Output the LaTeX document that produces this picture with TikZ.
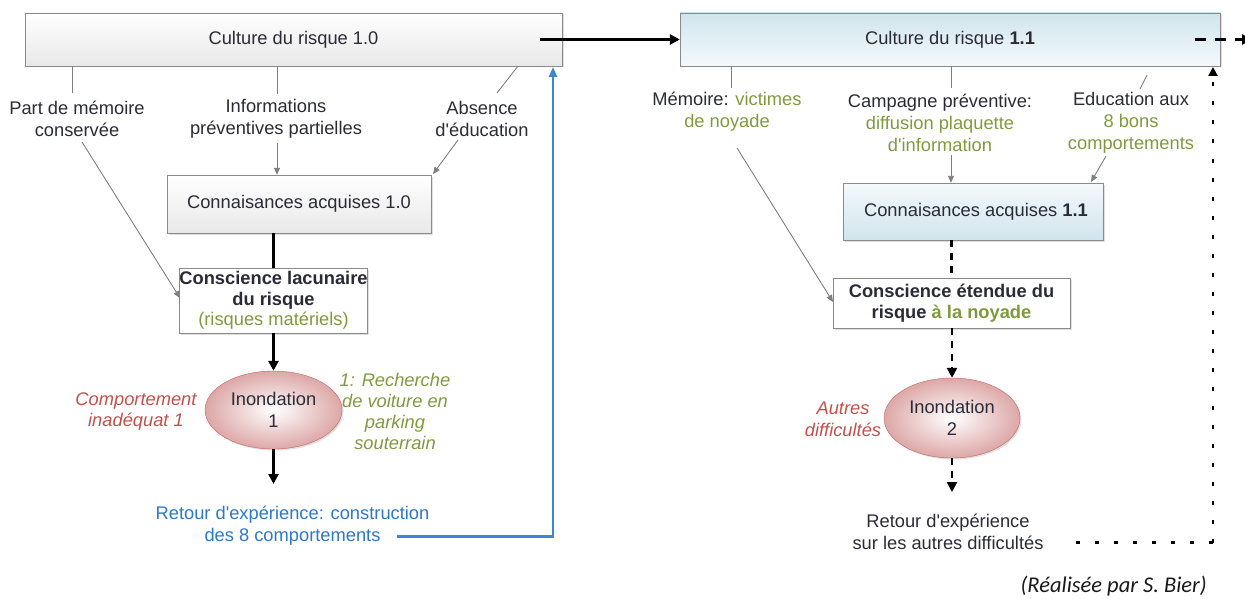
\documentclass[tikz,border=0pt]{standalone}
\usepackage{fontspec}
\setmainfont{Liberation Sans}[Ligatures=TeXOff]
\newfontfamily\credfont{Carlito}[Ligatures=TeXOff]
\usetikzlibrary{arrows.meta,shadows,shapes.geometric}
\newcommand{\apos}{\char39\relax}
\definecolor{txt}{HTML}{2B2B38}
\definecolor{grn}{HTML}{7F9A3E}
\definecolor{redt}{HTML}{C0504D}
\definecolor{bluet}{HTML}{2E78C4}
\definecolor{bluel}{HTML}{3A88D2}
\definecolor{gline}{HTML}{7F7F7F}
\definecolor{gborder}{HTML}{8A8A8A}
\definecolor{ellb}{HTML}{C26663}
\definecolor{ello}{HTML}{DDA7A7}
\definecolor{bdark}{HTML}{D0E5ED}
\definecolor{blight}{HTML}{F4F9FB}
\begin{document}
\begin{tikzpicture}[x=1pt,y=-1pt,
  font=\fontsize{18.3}{22}\selectfont, text=txt,
  shade/.style={drop shadow={opacity=0.25,shadow xshift=1.5pt,shadow yshift=-1.5pt}},
  graybox/.style={draw=gborder, top color=white, bottom color=black!9, shade, inner sep=0pt, align=center},
  bluebox/.style={draw=gborder, top color=bdark, bottom color=blight, shade, inner sep=0pt, align=center},
  bluebox2/.style={draw=gborder, top color=blight, bottom color=bdark, shade, inner sep=0pt, align=center},
  whitebox/.style={draw=gborder, fill=white, shade, inner sep=0pt, align=center},
  ell/.style={ellipse, draw=ellb, inner color=white, outer color=ello, shade, inner sep=0pt, align=center},
  lab/.style={inner sep=0pt, align=center},
  gcon/.style={draw=gline, line width=0.9pt},
  garr/.style={gcon, -{Triangle[length=7pt,width=6pt]}},
  barr/.style={line width=2.6pt, -{Triangle[length=10pt,width=10pt]}},
  bline/.style={line width=2.6pt},
  dsh/.style={line width=2.6pt, dash pattern=on 7pt off 6pt},
  dotl/.style={line width=2.4pt, dash pattern=on 4pt off 15pt},
]
\useasboundingbox (0,0) rectangle (1245,599);

% ---------- left column ----------
\node[graybox, minimum width=537, minimum height=53] (c10) at (293.5,39.5) {Culture du risque 1.0};
\node[lab] (l1) at (77,118.5) {Part de mémoire\\conservée};
\node[lab] (l2) at (276,118.5) {Informations\\préventives partielles};
\node[lab] (l3) at (482,118.5) {Absence\\d\apos éducation};
\node[graybox, minimum width=264, minimum height=58] (k10) at (299,204) {Connaisances acquises 1.0};
\node[whitebox, minimum width=187, minimum height=65] (s10) at (273.5,300.5)
  {\textbf{Conscience lacunaire}\\[-1pt]\textbf{du risque}\\[-2pt]{\color{grn}(risques matériels)}};
\node[ell, minimum width=137, minimum height=78] (e1) at (273.5,410) {Inondation\\1};
\node[lab, text=redt, font=\fontsize{18.3}{21}\selectfont\itshape] (cl) at (136,412) {Comportement\\inadéquat 1};
\node[lab, text=grn, font=\fontsize{18.3}{21}\selectfont\itshape] (cr) at (395,411.5) {1: Recherche\\de voiture en\\parking\\souterrain};
\node[lab, text=bluet] (r1) at (292.5,526) {Retour d\apos expérience: construction\\des 8 comportements};

\coordinate (p1a) at (72,66);   \coordinate (p1b) at (72,93);
\coordinate (p1c) at (82,142);  \coordinate (p1d) at (180,298);
\coordinate (p2a) at (277,66);  \coordinate (p2b) at (277,94);
\coordinate (p2c) at (277,143);
\coordinate (p3a) at (518,66);  \coordinate (p3b) at (497,93);
\coordinate (p3c) at (458,140); \coordinate (p3d) at (433,174);
\draw[gcon] (p1a) -- (p1b);
\draw[garr] (p1c) -- (p1d);
\draw[gcon] (p2a) -- (p2b);
\draw[garr] (p2c) -- (p2c |- k10.north);
\draw[gcon] (p3a) -- (p3b);
\draw[garr] (p3c) -- (p3d);
\draw[bline] (k10.south -| s10.north) -- (s10.north);
\draw[barr] (s10.south) -- (e1.north);
\coordinate (e1b) at (273.5,484);
\draw[barr] (e1.south) -- (e1b);
\coordinate (rb) at (397,536.5);
\coordinate (rt) at (553,67);
\draw[bluel, line width=2.2pt, -{Triangle[length=10pt,width=8pt]}] (rb) -| (rt);

% ---------- right column ----------
\node[bluebox, minimum width=540, minimum height=53] (c11) at (950,39.5) {Culture du risque \textbf{1.1}};
\coordinate (a1) at (540,39.5);
\draw[barr] (a1) -- (c11.west);

\node[lab] (m1) at (727,112) {Mémoire: {\color{grn}victimes}\\{\color{grn}de noyade}};
\node[lab] (m2) at (940,123) {Campagne préventive:\\{\color{grn}diffusion plaquette}\\{\color{grn}d\apos information}};
\node[lab] (m3) at (1131,123) {Education aux\\{\color{grn}8 bons}\\{\color{grn}comportements}};
\node[bluebox2, minimum width=260, minimum height=57] (k11) at (973,211.5) {\hspace*{6pt}Connaisances acquises \textbf{1.1}};
\node[whitebox, minimum width=237, minimum height=50] (s11) at (951.5,303)
  {\textbf{Conscience étendue du}\\[-1pt]\textbf{risque {\color{grn}à la noyade}}};
\node[ell, minimum width=136, minimum height=80] (e2) at (952,418) {Inondation\\2};
\node[lab, text=redt, font=\fontsize{18.3}{22}\selectfont\itshape] (al) at (843,419) {Autres\\difficultés};
\node[lab] (r2) at (948,531.5) {Retour d\apos expérience\\sur les autres difficultés};

\coordinate (q1a) at (731,66);   \coordinate (q1b) at (731,88);
\coordinate (q1c) at (737,148);  \coordinate (q1d) at (833,302);
\coordinate (q2a) at (951,66);   \coordinate (q2b) at (951,88);
\coordinate (q2c) at (951,155);
\coordinate (q3a) at (1147,75);  \coordinate (q3b) at (1140,89);
\coordinate (q3c) at (1106,156); \coordinate (q3d) at (1091,182);
\draw[gcon] (q1a) -- (q1b);
\draw[garr] (q1c) -- (q1d);
\draw[gcon] (q2a) -- (q2b);
\draw[garr] (q2c) -- (q2c |- k11.north);
\draw[gcon] (q3a) -- (q3b);
\draw[garr] (q3c) -- (q3d);

\draw[dsh] (k11.south -| s11.north) -- (s11.north);
\draw[dsh, -{Triangle[length=10pt,width=10pt]}] (s11.south -| e2.north) -- (e2.north);
\coordinate (e2b) at (952,492);
\draw[dsh, -{Triangle[length=10pt,width=10pt]}] (e2.south) -- (e2b);

\coordinate (d1) at (1195,39.5);
\coordinate (d2) at (1252,39.5);
\draw[line width=2.8pt, dash pattern=on 11pt off 9pt, -{Triangle[length=10pt,width=10pt]}] (d1) -- (d2);

\coordinate (f1) at (1076,542.5);
\coordinate (f2) at (1213,542.5);
\coordinate (f3) at (1213,67);
\draw[dotl] (f1) -- (f2);
\draw[dotl, -{Triangle[length=9pt,width=9pt]}] (f2) -- (f3);

\node[anchor=base east, inner sep=0pt, font=\credfont\itshape\fontsize{22.5}{25}\selectfont, text=black!90] (cred) at (1207,592) {(Réalisée par S. Bier)};
\end{tikzpicture}
\end{document}
